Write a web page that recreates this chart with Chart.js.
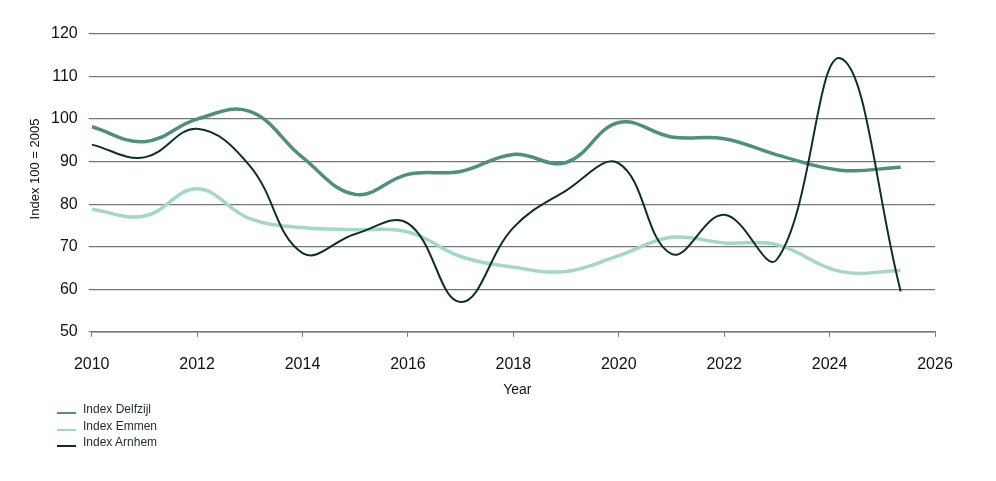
<!DOCTYPE html>
<html>
<head>
<meta charset="utf-8">
<script src="https://cdn.jsdelivr.net/npm/chart.js@4.4.1/dist/chart.umd.min.js"></script>
<style>
  html, body { margin: 0; padding: 0; background: #ffffff; }
  #wrap { position: relative; width: 996px; height: 481px; }
  #c { position: absolute; left: 0; top: 0; }
  #legend { position: absolute; left: 57px; top: 401px; font-family: "Liberation Sans", Arial, sans-serif; font-size: 12px; color: #1f2a30; }
  .item { position: relative; height: 16.6px; line-height: 16px; padding-left: 26px; white-space: nowrap; }
  .swatch { position: absolute; left: 0; top: 11px; width: 19px; height: 2px; }
</style>
</head>
<body>
<div id="wrap">
  <canvas id="c" width="996" height="481"></canvas>
  <div id="legend"></div>
</div>
<script>
// Years (x positions)
const years = [2010, 2011, 2012, 2013, 2014, 2015, 2016, 2017, 2018, 2019, 2020, 2021, 2022, 2023, 2024.2, 2025.35];

const seriesNames = ["Index Delfzijl", "Index Emmen", "Index Arnhem"];
const seriesColors = ["#4f8f7b", "#a4d8c3", "#0d2f2b"];

const delfzijl = [98.2, 94.7, 100.0, 101.8, 91.0, 82.3, 87.0, 87.7, 91.7, 89.8, 99.2, 95.8, 95.4, 91.6, 88.0, 88.7];
const emmen    = [78.8, 77.2, 83.6, 76.6, 74.5, 74.0, 73.5, 67.7, 65.2, 64.2, 67.9, 72.2, 70.9, 70.5, 64.2, 64.4];
const arnhem   = [94.0, 91.0, 97.7, 89.0, 68.5, 73.0, 75.5, 57.0, 74.5, 83.2, 89.6, 68.3, 77.5, 67.0, 114.3, 59.5];

const xTicks = [2010, 2012, 2014, 2016, 2018, 2020, 2022, 2024, 2026];
const yTicks = [50, 60, 70, 80, 90, 100, 110, 120];
const xTitle = "Year";
const yTitle = "Index 100 = 2005";

const toPoints = arr => arr.map((v, i) => ({ x: years[i], y: v }));

const FONT = "'Liberation Sans', Arial, sans-serif";

// Draws the axis titles
const axisTitlePlugin = {
  id: 'axisTitles',
  afterDraw(chart) {
    const { ctx, chartArea } = chart;
    ctx.save();
    ctx.fillStyle = '#111';
    ctx.textAlign = 'center';
    ctx.textBaseline = 'middle';
    ctx.font = "14px " + FONT;
    ctx.fillText(xTitle, (chartArea.left + chartArea.right) / 2 + 4, chartArea.bottom + 58);
    ctx.font = "13px " + FONT;
    ctx.translate(35, chartArea.top + 135);
    ctx.rotate(-Math.PI / 2);
    ctx.fillText(yTitle, 0, 0);
    ctx.restore();
  }
};

new Chart(document.getElementById('c'), {
  type: 'line',
  data: {
    datasets: [
      { label: seriesNames[2], data: toPoints(arnhem), borderColor: seriesColors[2], borderWidth: 2, order: 0 },
      { label: seriesNames[0], data: toPoints(delfzijl), borderColor: seriesColors[0], borderWidth: 3.5, order: 1 },
      { label: seriesNames[1], data: toPoints(emmen), borderColor: seriesColors[1], borderWidth: 3.5, order: 2 }
    ]
  },
  plugins: [axisTitlePlugin],
  options: {
    responsive: false,
    animation: false,
    devicePixelRatio: 1,
    elements: { point: { radius: 0 }, line: { tension: 0.4, fill: false } },
    layout: { padding: { top: 34, right: 61, bottom: 89, left: 40 } },
    plugins: { legend: { display: false }, tooltip: { enabled: false } },
    scales: {
      x: {
        type: 'linear',
        min: 2010, max: 2026,
        afterBuildTicks: axis => { axis.ticks = xTicks.map(v => ({ value: v })); },
        ticks: { callback: v => String(v), color: '#111', font: { family: FONT, size: 16 }, padding: 18, maxRotation: 0, autoSkip: false },
        grid: { drawOnChartArea: false, drawTicks: true, tickLength: 5, color: '#777' },
        border: { display: true, color: '#777', width: 1.5 },
        title: { display: false }
      },
      y: {
        min: 50, max: 120,
        afterBuildTicks: axis => { axis.ticks = yTicks.map(v => ({ value: v })); },
        ticks: { color: '#111', font: { family: FONT, size: 16 }, padding: 11 },
        grid: { color: '#777', lineWidth: 1.2, drawTicks: true, tickLength: 3 },
        border: { display: false },
        title: { display: false }
      }
    }
  }
});

// Legend (vertical, bottom-left)
const legendEl = document.getElementById('legend');
seriesNames.forEach((name, i) => {
  const item = document.createElement('div');
  item.className = 'item';
  const sw = document.createElement('span');
  sw.className = 'swatch';
  sw.style.background = seriesColors[i];
  item.appendChild(sw);
  item.appendChild(document.createTextNode(name));
  legendEl.appendChild(item);
});
</script>
</body>
</html>
